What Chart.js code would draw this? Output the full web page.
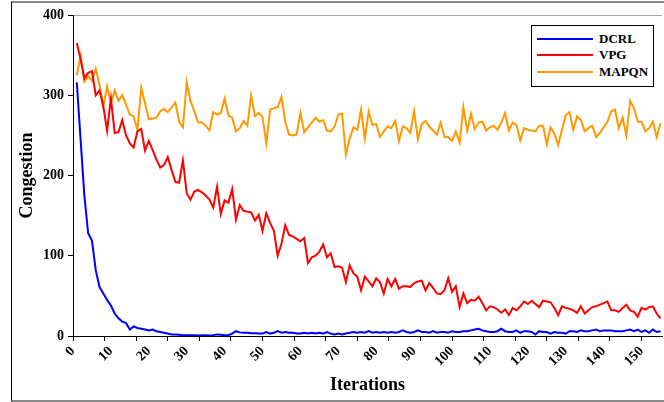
<!DOCTYPE html>
<html>
<head>
<meta charset="utf-8">
<script src="https://cdn.jsdelivr.net/npm/chart.js@4.4.1/dist/chart.umd.min.js"></script>
<style>
  html, body { margin: 0; padding: 0; background: #fff; overflow: hidden; }
  #wrap { position: relative; width: 664px; height: 402px; }
  #frame { position: absolute; left: 11px; top: 1px; width: 700px; height: 397px;
           border-left: 1px solid #000; border-top: 2px solid #8a8a8a; border-bottom: 2px solid #8a8a8a; }
  #chart { position: absolute; left: 0; top: 0; }
  #legend { position: absolute; left: 531px; top: 25px; width: 123px; height: 62px; box-sizing: border-box;
            border: 1px solid #000; background: #fff; font: bold 13px "Liberation Serif", serif; }
  .item { position: absolute; left: 0; height: 16px; width: 120px; }
  .item .swatch { position: absolute; left: 5px; top: 7px; width: 56px; height: 2px; }
  .item .txt { position: absolute; left: 67px; top: 0; line-height: 16px; color: #000; }
</style>
</head>
<body>
<div id="wrap">
  <div id="frame"></div>
  <canvas id="chart" width="664" height="402"></canvas>
  <div id="legend"></div>
</div>
<script>
const iterations = Array.from({ length: 155 }, (_, i) => i + 1);

const xTicks = [0, 10, 20, 30, 40, 50, 60, 70, 80, 90, 100, 110, 120, 130, 140, 150];
const yTicks = [0, 100, 200, 300, 400];

const dcrl = [
  316, 245, 175, 128, 119, 82, 61, 53, 45, 38,
  28, 22, 18, 16, 8, 12, 10, 9, 8, 7,
  8, 6, 5, 4, 3, 2, 2, 1.5, 1, 1,
  1, 1, 0.5, 1, 1, 0.5, 1, 2, 1.5, 1,
  1, 3, 6, 4.5, 4, 4, 3.5, 3.5, 3, 3,
  5, 3, 4, 6, 4, 5, 4, 4, 3, 3,
  4, 3, 4, 3, 4, 3, 5, 3, 2, 3,
  2, 3, 4, 5, 4, 5, 4, 6, 4, 5,
  4, 5, 4, 5, 4, 5, 7, 5, 4, 5,
  7, 5, 5, 4, 6, 4, 5, 5, 4, 6,
  5, 5, 6, 6, 7, 8, 9, 7, 6, 5,
  5, 6, 9, 6, 5, 5, 7, 4, 6, 6,
  5, 2, 6, 5, 5, 3, 5, 4, 4, 3,
  6, 6, 5, 7, 6, 6, 7, 8, 6, 7,
  7, 7, 6, 6, 6, 7, 8, 6, 8, 5,
  7, 4, 8, 5, 6
];

const vpg = [
  365, 345, 321, 328, 330, 300, 306, 286, 256, 296,
  253, 254, 269, 250, 240, 235, 255, 258, 231, 243,
  232, 220, 210, 213, 223, 207, 192, 191, 219, 178,
  170, 180, 182, 179, 175, 170, 160, 186, 152, 169,
  166, 183, 145, 163, 156, 155, 154, 144, 151, 131,
  153, 141, 131, 100, 115, 138, 126, 124, 121, 118,
  122, 91, 98, 100, 105, 114, 98, 103, 86, 87,
  85, 67, 88, 78, 74, 57, 74, 68, 62, 72,
  67, 53, 71, 62, 71, 59, 62, 62, 61, 66,
  68, 69, 57, 66, 60, 53, 52, 57, 72, 55,
  62, 36, 53, 41, 45, 44, 49, 41, 32, 37,
  36, 33, 29, 33, 26, 35, 32, 37, 43, 40,
  44, 40, 36, 44, 43, 42, 35, 26, 37, 35,
  34, 32, 29, 37, 28, 32, 36, 37, 39, 41,
  43, 32, 32, 30, 35, 39, 32, 30, 24, 35,
  33, 36, 37, 28, 22
];

const mapqn = [
  325, 349, 317, 324, 318, 333, 313, 286, 311, 290,
  306, 293, 300, 288, 276, 274, 257, 309, 290, 270,
  271, 272, 280, 283, 279, 285, 291, 267, 260, 316,
  293, 280, 266, 266, 262, 256, 279, 276, 278, 296,
  275, 272, 255, 259, 268, 262, 300, 274, 278, 273,
  240, 282, 284, 285, 298, 267, 251, 250, 251, 278,
  254, 260, 266, 272, 267, 269, 256, 255, 261, 276,
  277, 226, 246, 260, 257, 282, 246, 280, 263, 264,
  248, 255, 261, 259, 268, 243, 261, 259, 253, 280,
  245, 264, 268, 261, 256, 251, 266, 248, 248, 243,
  255, 241, 285, 256, 277, 258, 266, 267, 256, 260,
  262, 257, 266, 278, 256, 266, 263, 244, 259, 257,
  256, 255, 262, 262, 239, 260, 252, 238, 257, 275,
  279, 257, 274, 269, 255, 259, 262, 248, 253, 260,
  267, 280, 282, 259, 272, 250, 293, 284, 267, 267,
  255, 259, 267, 248, 265
];

const tickFont = { family: 'Liberation Serif', weight: 'bold', size: 14 };
const titleFont = { family: 'Liberation Serif', weight: 'bold', size: 18 };

function series(label, data, color) {
  return {
    label: label,
    data: data,
    borderColor: color,
    backgroundColor: color,
    borderWidth: 2,
    pointRadius: 0,
    tension: 0,
    fill: false,
    xAxisID: 'x',
    yAxisID: 'y'
  };
}

const chart = new Chart(document.getElementById('chart').getContext('2d'), {
  type: 'line',
  data: {
    labels: iterations,
    datasets: [
      series('DCRL', dcrl, '#0000ff'),
      series('VPG', vpg, '#ff0000'),
      series('MAPQN', mapqn, '#ff9900')
    ]
  },
  options: {
    responsive: false,
    animation: false,
    layout: { padding: { left: 12, right: 2, top: 15, bottom: 4 } },
    plugins: { legend: { display: false }, tooltip: { enabled: false } },
    scales: {
      x: {
        type: 'linear', position: 'bottom', weight: 10,
        min: 0, max: 155.4,
        grid: { display: false, drawTicks: false },
        border: { display: false },
        afterBuildTicks: s => { s.ticks = xTicks.map(v => ({ value: v })); },
        ticks: { minRotation: 45, maxRotation: 45, padding: 2, color: '#000', font: tickFont, autoSkip: false },
        title: { display: true, text: 'Iterations', color: '#000', font: titleFont, padding: { top: 0, bottom: 2 } },
        afterFit: s => { s.height = 57; }
      },
      xt: {
        type: 'linear', position: 'bottom', weight: 0,
        min: 0, max: 155.4,
        ticks: { display: false, stepSize: 25 / 3, includeBounds: false },
        grid: { drawOnChartArea: false, color: '#000', tickLength: 5 },
        border: { color: '#000', width: 1 },
        afterFit: s => { s.height = 5; }
      },
      y: {
        min: 0, max: 400,
        afterBuildTicks: s => { s.ticks = yTicks.map(v => ({ value: v })); },
        ticks: { padding: 4, color: '#000', font: tickFont },
        grid: {
          color: c => (c.tick && c.tick.value === 400 ? '#a6a6a6' : 'rgba(0,0,0,0)'),
          tickColor: '#000', tickLength: 5
        },
        border: { color: '#000', width: 1 },
        title: { display: true, text: 'Congestion', color: '#000', font: titleFont, padding: { top: 5, bottom: 0 } },
        afterFit: s => { s.width = 61; }
      }
    }
  }
});

// legend box, built from the chart's datasets
const legend = document.getElementById('legend');
chart.data.datasets.forEach((ds, k) => {
  const item = document.createElement('div');
  item.className = 'item';
  item.style.top = (5 + k * 16.3) + 'px';
  const sw = document.createElement('div');
  sw.className = 'swatch';
  sw.style.background = ds.borderColor;
  const txt = document.createElement('span');
  txt.className = 'txt';
  txt.textContent = ds.label;
  item.appendChild(sw);
  item.appendChild(txt);
  legend.appendChild(item);
});
</script>
</body>
</html>
